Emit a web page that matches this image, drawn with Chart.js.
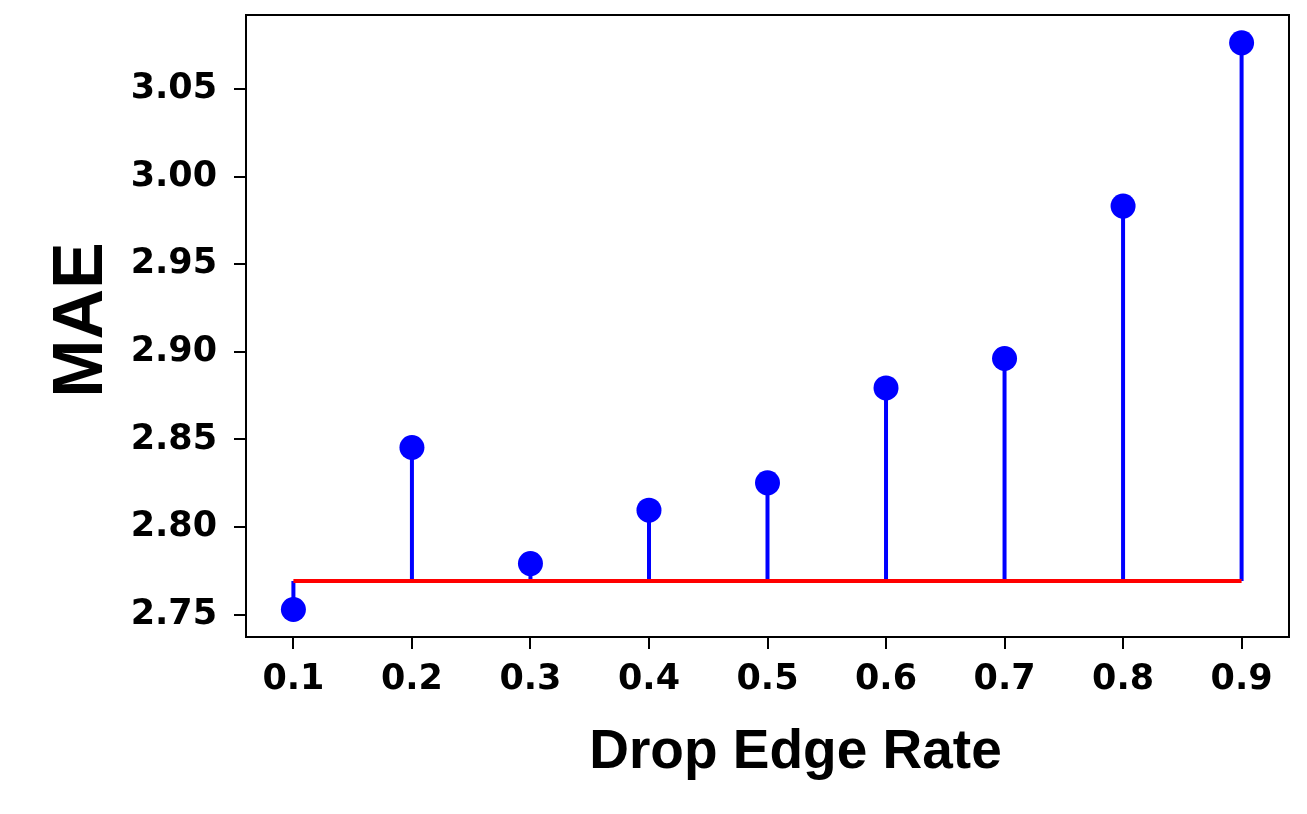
<!DOCTYPE html>
<html>
<head>
<meta charset="utf-8">
<script src="https://cdn.jsdelivr.net/npm/chart.js@4.4.1/dist/chart.umd.min.js"></script>
<style>
  html, body { margin: 0; padding: 0; background: #ffffff; }
  #wrap { width: 1307px; height: 814px; position: relative; }
</style>
</head>
<body>
<div id="wrap"><canvas id="c"></canvas></div>
<script>
// ---- data ----
const dropRates = [0.1, 0.2, 0.3, 0.4, 0.5, 0.6, 0.7, 0.8, 0.9];
const maeValues = [2.7529, 2.8454, 2.7791, 2.8096, 2.8252, 2.8794, 2.8962, 2.9832, 3.0764];
const baseline = 2.7692;
const xTicks = [0.1, 0.2, 0.3, 0.4, 0.5, 0.6, 0.7, 0.8, 0.9];
const yTicks = [2.75, 2.80, 2.85, 2.90, 2.95, 3.00, 3.05];
const xTitle = 'Drop Edge Rate';
const yTitle = 'MAE';

// ---- datasets ----
const stemDatasets = dropRates.map((x, i) => ({
  type: 'line',
  data: [{x: x, y: baseline}, {x: x, y: maeValues[i]}],
  borderColor: '#0000ff',
  borderWidth: 4,
  pointRadius: 0,
  fill: false,
  order: 3
}));

const baselineDataset = {
  type: 'line',
  data: [{x: dropRates[0], y: baseline}, {x: dropRates[dropRates.length - 1], y: baseline}],
  borderColor: '#ff0000',
  borderWidth: 4,
  pointRadius: 0,
  fill: false,
  order: 2
};

const markerDataset = {
  type: 'scatter',
  data: dropRates.map((x, i) => ({x: x, y: maeValues[i]})),
  backgroundColor: '#0000ff',
  borderWidth: 0,
  pointRadius: 12.5,
  order: 1
};

const tickFont = { family: 'DejaVu Sans', size: 35, weight: 'bold' };

const framePlugin = {
  id: 'frame',
  afterDraw(chart) {
    const ctx = chart.ctx;
    const a = chart.chartArea;
    ctx.save();
    ctx.strokeStyle = '#000000';
    ctx.lineWidth = 2;
    ctx.strokeRect(a.left, a.top, a.right - a.left, a.bottom - a.top);
    ctx.fillStyle = '#000000';
    // x title
    ctx.font = 'bold 55px "Liberation Sans", Arial, sans-serif';
    ctx.textAlign = 'center';
    ctx.textBaseline = 'alphabetic';
    ctx.fillText(xTitle, 795.5, 768);
    // y title
    ctx.font = 'bold 70px "Liberation Sans", Arial, sans-serif';
    ctx.translate(102, 320);
    ctx.rotate(-Math.PI / 2);
    ctx.fillText(yTitle, 0, 0);
    ctx.restore();
  }
};

new Chart(document.getElementById('c'), {
  data: { datasets: [...stemDatasets, baselineDataset, markerDataset] },
  options: {
    responsive: true,
    maintainAspectRatio: false,
    animation: false,
    events: [],
    layout: { padding: { top: 15, right: 18, left: 0, bottom: 0 } },
    plugins: { legend: { display: false }, tooltip: { enabled: false } },
    scales: {
      x: {
        type: 'linear',
        min: 0.06,
        max: 0.94,
        offset: false,
        afterFit: s => { s.height = 177; s.paddingLeft = 0; s.paddingRight = 0; },
        afterBuildTicks: s => { s.ticks = xTicks.map(v => ({ value: v })); },
        ticks: {
          color: '#000000',
          font: tickFont,
          padding: 10,
          maxRotation: 0,
          autoSkip: false,
          callback: v => Number(v).toFixed(1)
        },
        grid: {
          display: true,
          drawOnChartArea: false,
          drawTicks: true,
          tickLength: 12,
          tickWidth: 2,
          lineWidth: 2,
          tickColor: '#000000',
          color: '#000000'
        },
        border: { display: false }
      },
      y: {
        type: 'linear',
        min: 2.7372,
        max: 3.0923,
        afterFit: s => { s.width = 246; s.paddingTop = 0; s.paddingBottom = 0; },
        afterBuildTicks: s => { s.ticks = yTicks.map(v => ({ value: v })); },
        ticks: {
          color: '#000000',
          font: tickFont,
          padding: 17,
          autoSkip: false,
          callback: v => Number(v).toFixed(2)
        },
        grid: {
          display: true,
          drawOnChartArea: false,
          drawTicks: true,
          tickLength: 12,
          tickWidth: 2,
          lineWidth: 2,
          tickColor: '#000000',
          color: '#000000'
        },
        border: { display: false }
      }
    }
  },
  plugins: [framePlugin]
});
</script>
</body>
</html>
